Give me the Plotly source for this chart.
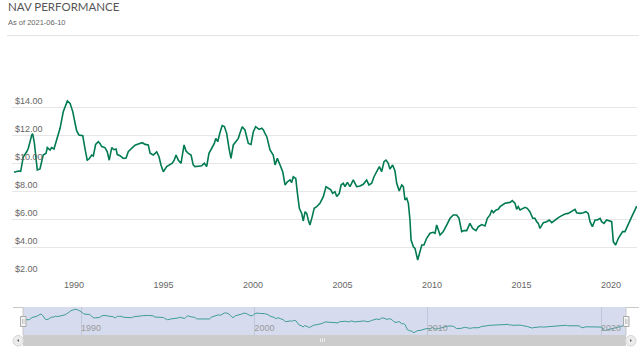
import plotly.graph_objects as go
import pandas as pd
import numpy as np

# ---- data (decimal year, NAV in $) ----
years = [1986.65, 1986.89, 1987.02, 1987.17, 1987.36, 1987.45, 1987.64, 1987.69, 1987.78, 1987.95,
         1988.10, 1988.28, 1988.44, 1988.51, 1988.66, 1988.75, 1988.88, 1989.03, 1989.22, 1989.40,
         1989.63, 1989.78, 1989.93, 1990.06, 1990.15, 1990.28, 1990.37, 1990.49, 1990.61, 1990.74,
         1990.85, 1990.99, 1991.08, 1991.21, 1991.36, 1991.45, 1991.55, 1991.73, 1991.86, 1991.97,
         1992.11, 1992.23, 1992.35, 1992.42, 1992.57, 1992.75, 1992.91, 1993.03, 1993.22, 1993.41,
         1993.59, 1993.82, 1993.97, 1994.15, 1994.25, 1994.43, 1994.62, 1994.75, 1994.86, 1994.99,
         1995.18, 1995.36, 1995.49, 1995.60, 1995.70, 1995.83, 1995.98, 1996.15, 1996.26, 1996.39,
         1996.54, 1996.66, 1996.76, 1996.94, 1997.13, 1997.28, 1997.41, 1997.54, 1997.73, 1997.84,
         1997.92, 1998.03, 1998.16, 1998.28, 1998.40, 1998.53, 1998.66, 1998.77, 1998.90, 1999.03,
         1999.18, 1999.27, 1999.40, 1999.55, 1999.74, 1999.89, 2000.02, 2000.15, 2000.34, 2000.49,
         2000.58, 2000.67, 2000.77, 2000.95, 2001.13, 2001.23, 2001.36, 2001.51, 2001.66, 2001.79,
         2001.92, 2002.07, 2002.16, 2002.25, 2002.39, 2002.47, 2002.59, 2002.72, 2002.81, 2002.91,
         2003.00, 2003.09, 2003.18, 2003.31, 2003.42, 2003.56, 2003.74, 2003.93, 2004.08, 2004.21,
         2004.34, 2004.45, 2004.58, 2004.68, 2004.82, 2004.92, 2005.04, 2005.14, 2005.27, 2005.42,
         2005.60, 2005.79, 2005.98, 2006.16, 2006.35, 2006.48, 2006.63, 2006.76, 2006.91, 2007.06,
         2007.19, 2007.32, 2007.43, 2007.56, 2007.65, 2007.80, 2007.93, 2008.03, 2008.17, 2008.31,
         2008.40, 2008.49, 2008.59, 2008.68, 2008.77, 2008.83, 2008.96, 2009.05, 2009.20, 2009.33,
         2009.43, 2009.55, 2009.70, 2009.89, 2010.07, 2010.17, 2010.26, 2010.45, 2010.63, 2010.82,
         2011.01, 2011.19, 2011.38, 2011.51, 2011.66, 2011.79, 2011.94, 2012.12, 2012.27, 2012.46,
         2012.59, 2012.78, 2012.96, 2013.09, 2013.24, 2013.34, 2013.43, 2013.58, 2013.70, 2013.80,
         2013.95, 2014.08, 2014.26, 2014.36, 2014.49, 2014.64, 2014.73, 2014.82, 2014.92, 2015.07,
         2015.20, 2015.32, 2015.47, 2015.63, 2015.75, 2015.85, 2015.94, 2016.03, 2016.13, 2016.22,
         2016.41, 2016.55, 2016.69, 2016.87, 2017.06, 2017.25, 2017.43, 2017.61, 2017.80, 2017.99,
         2018.08, 2018.27, 2018.45, 2018.60, 2018.73, 2018.83, 2018.96, 2019.11, 2019.24, 2019.39,
         2019.48, 2019.61, 2019.76, 2019.91, 2020.04, 2020.13, 2020.26, 2020.41, 2020.54, 2020.65,
         2020.78, 2020.97, 2021.16, 2021.30, 2021.44]
nav = [9.34, 9.43, 9.40, 10.45, 10.80, 11.05, 12.00, 12.10, 11.50, 9.50,
       9.57, 10.57, 10.70, 11.10, 10.93, 11.10, 11.00, 11.64, 12.48, 13.67,
       14.43, 14.26, 13.67, 12.84, 12.29, 12.00, 12.00, 11.95, 11.05, 10.20,
       10.30, 10.57, 10.50, 11.33, 11.52, 11.40, 11.17, 11.10, 10.80, 10.20,
       11.10, 10.95, 11.00, 10.60, 10.52, 10.33, 10.36, 10.80, 11.05, 11.27,
       11.35, 11.45, 11.33, 11.29, 10.70, 10.57, 10.80, 10.45, 9.86, 9.38,
       9.74, 9.86, 9.98, 10.20, 10.57, 10.20, 9.98, 11.29, 10.86, 10.69,
       10.57, 9.86, 9.74, 9.77, 9.80, 9.98, 9.74, 10.69, 11.17, 11.40,
       11.76, 11.52, 12.19, 12.67, 12.60, 12.12, 11.05, 10.33, 11.29, 11.52,
       11.76, 12.12, 12.59, 12.36, 11.40, 11.33, 12.24, 12.59, 12.40, 12.48,
       12.36, 12.12, 11.88, 10.93, 10.57, 9.86, 10.33, 9.86, 9.38, 8.43,
       8.66, 8.79, 8.60, 9.02, 8.90, 7.95, 6.76, 6.40, 5.86, 6.52,
       6.40, 5.93, 5.57, 6.17, 6.76, 6.88, 7.12, 7.60, 8.31, 8.20,
       8.10, 7.83, 7.95, 7.60, 7.83, 8.43, 8.55, 8.31, 8.62, 8.31,
       8.79, 8.31, 8.36, 8.48, 8.79, 8.43, 8.55, 9.02, 9.38, 9.74,
       9.38, 10.10, 10.21, 9.98, 9.56, 9.86, 9.45, 8.55, 8.00, 8.43,
       8.31, 7.36, 7.48, 7.12, 5.93, 4.50, 4.02, 3.90, 3.07, 3.79,
       4.14, 4.14, 4.62, 4.98, 5.05, 4.98, 5.57, 4.86, 5.10, 5.57,
       6.05, 6.29, 6.29, 6.05, 5.10, 5.17, 5.17, 5.69, 5.33, 5.17,
       5.45, 5.60, 5.50, 6.05, 6.29, 6.64, 6.45, 6.64, 6.69, 6.88,
       7.00, 7.12, 7.17, 7.18, 7.31, 7.12, 6.70, 6.88, 6.64, 6.76,
       6.83, 6.76, 6.52, 6.05, 6.05, 5.81, 5.69, 5.33, 5.57, 5.74,
       5.81, 5.93, 5.74, 5.93, 6.10, 6.24, 6.36, 6.40, 6.52, 6.69,
       6.45, 6.40, 6.45, 6.52, 6.40, 5.81, 5.45, 5.93, 5.93, 6.05,
       5.81, 5.69, 5.93, 5.86, 5.81, 4.38, 4.14, 4.62, 4.86, 5.10,
       5.10, 5.69, 6.17, 6.55, 6.92]

y_ticks = [2, 4, 6, 8, 10, 12, 14]
y_ticktext = ["$2.00", "$4.00", "$6.00", "$8.00", "$10.00", "$12.00", "$14.00"]
x_tick_years = [1990, 1995, 2000, 2005, 2010, 2015, 2020]
nav_tick_years = [1990, 2000, 2010, 2020]

title_text = "NAV PERFORMANCE"
subtitle_text = "As of 2021-06-10"


def to_dt(y):
    yr = int(np.floor(y))
    frac = y - yr
    start = pd.Timestamp(year=yr, month=1, day=1)
    end = pd.Timestamp(year=yr + 1, month=1, day=1)
    return start + (end - start) * frac


dates = [to_dt(y) for y in years]

W, H = 639, 356


def px(x):
    return x / W


def py(y):
    return 1 - y / H


fig = go.Figure()

fig.add_trace(go.Scatter(x=dates, y=nav, mode="lines",
                         line=dict(color="#007a53", width=1.6),
                         xaxis="x", yaxis="y", hoverinfo="skip", showlegend=False))
fig.add_trace(go.Scatter(x=dates, y=nav, mode="lines",
                         line=dict(color="#3f9c98", width=1),
                         xaxis="x2", yaxis="y2", hoverinfo="skip", showlegend=False))

shapes = []
# separator under title
shapes.append(dict(type="line", xref="paper", yref="paper", x0=px(7), x1=px(639), y0=py(35.5), y1=py(35.5),
                   line=dict(color="#e3e3e3", width=1)))
# navigator mask background
shapes.append(dict(type="rect", xref="paper", yref="paper", x0=px(23), x1=px(626), y0=py(335), y1=py(307),
                   fillcolor="#d6dcee", line=dict(width=0), layer="below"))
# navigator outline
for (x0, y0, x1, y1) in [(13, 307.5, 23, 307.5), (23, 307.5, 23, 335), (626, 307.5, 639, 307.5), (626, 307.5, 626, 335)]:
    shapes.append(dict(type="line", xref="paper", yref="paper", x0=px(x0), x1=px(x1), y0=py(y0), y1=py(y1),
                       line=dict(color="#c8c8c8", width=1)))
# scrollbar bar
shapes.append(dict(type="rect", xref="paper", yref="paper", x0=px(23), x1=px(626), y0=py(346), y1=py(335),
                   fillcolor="#cccccc", line=dict(width=0)))
# scrollbar buttons
for (x0, x1) in [(13, 23.5), (625.5, 636)]:
    shapes.append(dict(type="circle", xref="paper", yref="paper", x0=px(x0), x1=px(x1), y0=py(346), y1=py(335.5),
                       fillcolor="#ececec", line=dict(color="#d4d4d4", width=1)))
# arrows
shapes.append(dict(type="path", xref="paper", yref="paper",
                   path=f"M {px(17)} {py(340.5)} L {px(19)} {py(339)} L {px(19)} {py(342)} Z",
                   fillcolor="#666666", line=dict(width=0)))
shapes.append(dict(type="path", xref="paper", yref="paper",
                   path=f"M {px(632)} {py(340.5)} L {px(630)} {py(339)} L {px(630)} {py(342)} Z",
                   fillcolor="#666666", line=dict(width=0)))
# grip
for gx in [320.5, 322.5, 324.5]:
    shapes.append(dict(type="line", xref="paper", yref="paper", x0=px(gx), x1=px(gx), y0=py(338.5), y1=py(342),
                       line=dict(color="#eeeeee", width=1)))
# handles
for (x0, x1) in [(20.5, 26), (623.5, 629)]:
    shapes.append(dict(type="rect", xref="paper", yref="paper", x0=px(x0), x1=px(x1), y0=py(326.5), y1=py(316.5),
                       fillcolor="#f4f4f4", line=dict(color="#aaaaaa", width=1)))
    for hx in [x0 + 2, x0 + 3.5]:
        shapes.append(dict(type="line", xref="paper", yref="paper", x0=px(hx), x1=px(hx), y0=py(319), y1=py(324),
                           line=dict(color="#aaaaaa", width=0.6)))

annotations = [
    dict(text=title_text, xref="paper", yref="paper", x=px(6), y=py(7), xanchor="left", yanchor="middle",
         showarrow=False, font=dict(family="Lato, Open Sans, sans-serif", size=11.5, color="#555555")),
    dict(text=subtitle_text, xref="paper", yref="paper", x=px(6), y=py(23), xanchor="left", yanchor="middle",
         showarrow=False, font=dict(family="Liberation Sans, Arial, sans-serif", size=7.5, color="#666666")),
]

x_start = to_dt(1990 + (12 - 74) / 17.9)
x_end = to_dt(1990 + (637 - 74) / 17.9)

fig.update_layout(
    width=W, height=H,
    margin=dict(l=0, r=0, t=0, b=0),
    paper_bgcolor="white", plot_bgcolor="rgba(0,0,0,0)",
    showlegend=False,
    shapes=shapes,
    annotations=annotations,
    xaxis=dict(domain=[px(12), px(637)], range=[x_start, x_end], type="date",
               tickvals=[to_dt(y) for y in x_tick_years], ticktext=[str(y) for y in x_tick_years],
               showgrid=False, zeroline=False, showline=False, ticks="", ticklabelstandoff=3,
               tickfont=dict(family="Liberation Sans, Arial, sans-serif", size=9, color="#666666"),
               anchor="y"),
    yaxis=dict(domain=[py(275), py(86)], range=[2, 15.5],
               tickvals=y_ticks, ticktext=y_ticktext, ticklabelposition="inside top",
               showgrid=True, gridcolor="#e6e6e6", gridwidth=1, zeroline=False, showline=False, ticks="",
               tickfont=dict(family="Liberation Sans, Arial, sans-serif", size=9, color="#666666"),
               anchor="x"),
    xaxis2=dict(domain=[px(23), px(626)], range=[dates[0], dates[-1]], type="date",
                tickvals=[to_dt(y) for y in nav_tick_years], ticktext=[str(y) for y in nav_tick_years],
                ticklabelposition="inside right", ticklabelstandoff=-4,
                showgrid=True, gridcolor="#bfc7da", gridwidth=1, zeroline=False, showline=False, ticks="",
                tickfont=dict(family="Liberation Sans, Arial, sans-serif", size=9, color="#9a9a9a"),
                anchor="y2"),
    yaxis2=dict(domain=[py(335), py(307)], range=[1.95, 15.55], showgrid=False, zeroline=False,
                showticklabels=False, showline=False, ticks="", anchor="x2"),
)

fig.write_html("out.html", config={"displayModeBar": False},
               post_script="document.body.style.margin='0px';")
